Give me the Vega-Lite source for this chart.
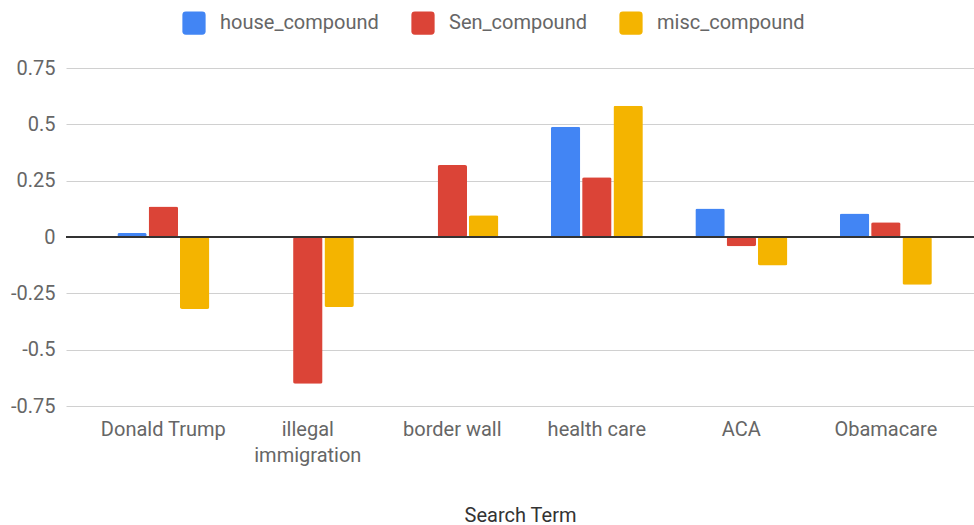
{
  "$schema": "https://vega.github.io/schema/vega-lite/v6.json",
  "autosize": "none",
  "width": 908,
  "height": 338,
  "padding": {"left": 66, "top": 68, "right": 0, "bottom": 119},
  "background": "white",
  "config": {
    "font": "Roboto",
    "view": {"stroke": null}
  },
  "data": {
    "values": [
      {"term": "Donald Trump", "series": "house_compound", "value": 0.018},
      {"term": "Donald Trump", "series": "Sen_compound", "value": 0.135},
      {"term": "Donald Trump", "series": "misc_compound", "value": -0.319},
      {"term": "illegal immigration", "series": "house_compound", "value": 0},
      {"term": "illegal immigration", "series": "Sen_compound", "value": -0.651},
      {"term": "illegal immigration", "series": "misc_compound", "value": -0.311},
      {"term": "border wall", "series": "house_compound", "value": 0},
      {"term": "border wall", "series": "Sen_compound", "value": 0.319},
      {"term": "border wall", "series": "misc_compound", "value": 0.096},
      {"term": "health care", "series": "house_compound", "value": 0.489},
      {"term": "health care", "series": "Sen_compound", "value": 0.265},
      {"term": "health care", "series": "misc_compound", "value": 0.582},
      {"term": "ACA", "series": "house_compound", "value": 0.126},
      {"term": "ACA", "series": "Sen_compound", "value": -0.041},
      {"term": "ACA", "series": "misc_compound", "value": -0.126},
      {"term": "Obamacare", "series": "house_compound", "value": 0.104},
      {"term": "Obamacare", "series": "Sen_compound", "value": 0.065},
      {"term": "Obamacare", "series": "misc_compound", "value": -0.212}
    ]
  },
  "layer": [
    {
      "mark": {"type": "bar", "cornerRadius": 2},
      "encoding": {
        "x": {
          "field": "term",
          "type": "nominal",
          "sort": null,
          "scale": {"paddingInner": 0.3633, "paddingOuter": 0.3235, "align": 0.549},
          "axis": {
            "title": "Search Term",
            "titleFontSize": 20,
            "titleFontWeight": "normal",
            "titleColor": "#333333",
            "titlePadding": 40,
            "labelFontSize": 20,
            "labelColor": "#666666",
            "labelAngle": 0,
            "labelPadding": 13,
            "labelLineHeight": 26,
            "labelLimit": 0,
            "labelExpr": "datum.label == 'illegal immigration' ? ['illegal', 'immigration'] : datum.label",
            "ticks": false,
            "domain": false
          }
        },
        "xOffset": {
          "field": "series",
          "type": "nominal",
          "sort": ["house_compound", "Sen_compound", "misc_compound"],
          "scale": {"paddingInner": 0.06, "paddingOuter": 0}
        },
        "y": {
          "field": "value",
          "type": "quantitative",
          "scale": {"domain": [-0.75, 0.75], "nice": false, "zero": false},
          "axis": {
            "title": null,
            "values": [-0.75, -0.5, -0.25, 0, 0.25, 0.5, 0.75],
            "labelExpr": "'' + datum.value",
            "labelFontSize": 20,
            "labelColor": "#666666",
            "labelPadding": 11,
            "ticks": false,
            "domain": false,
            "gridColor": "#d0d0d0",
            "gridWidth": 1
          }
        },
        "color": {
          "field": "series",
          "type": "nominal",
          "scale": {
            "domain": ["house_compound", "Sen_compound", "misc_compound"],
            "range": ["#4285F4", "#DB4437", "#F4B400"]
          },
          "legend": {
            "title": null,
            "orient": "none",
            "direction": "horizontal",
            "legendX": 116,
            "legendY": -57,
            "padding": 0,
            "labelFontSize": 20,
            "labelColor": "#666666",
            "labelOffset": 14,
            "columnPadding": 32,
            "symbolType": "M-1,-0.7Q-1,-1,-0.7,-1L0.7,-1Q1,-1,1,-0.7L1,0.7Q1,1,0.7,1L-0.7,1Q-1,1,-1,0.7Z",
            "symbolSize": 540,
            "symbolStrokeWidth": 0,
            "symbolOpacity": 1
          }
        }
      }
    },
    {
      "mark": {"type": "rule", "color": "#333333", "strokeWidth": 1.5},
      "encoding": {"y": {"datum": 0}}
    }
  ]
}
